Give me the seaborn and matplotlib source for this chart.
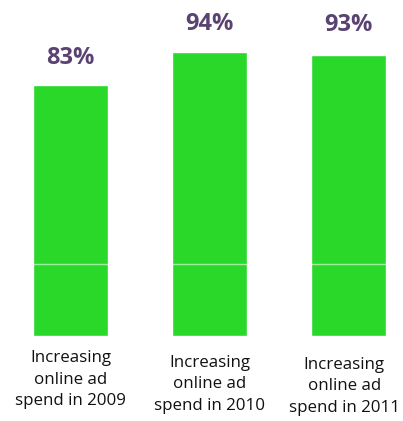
import matplotlib
matplotlib.use("Agg")
import matplotlib.pyplot as plt
import matplotlib.transforms as mtransforms
import seaborn as sns
import pandas as pd

categories = ["Increasing\nonline ad\nspend in 2009",
              "Increasing\nonline ad\nspend in 2010",
              "Increasing\nonline ad\nspend in 2011"]
values = [83, 94, 93]
value_labels = ["83%", "94%", "93%"]

df = pd.DataFrame({"category": categories, "value": values})

sns.set_style("white")
plt.rcParams["font.family"] = ["Open Sans", "DejaVu Sans"]

fig = plt.figure(figsize=(4.03, 4.21), dpi=100)
ax = fig.add_axes([0, 0.2019, 1, 0.7981])

sns.barplot(data=df, x="category", y="value", color="#2ad82a",
            saturation=1, width=0.54, ax=ax)

ax.set_xlim(-0.507, 2.392)
ax.set_ylim(0, 111.3)

# faint horizontal rule crossing the bars
ax.axhline(24, color="white", lw=1.0, alpha=0.55, zorder=5)

# value labels above each bar
label_gap = [9.0, 9.3, 10.0]
for i, (v, lab) in enumerate(zip(values, value_labels)):
    ax.text(i, v + label_gap[i], lab, ha="center", va="center",
            fontsize=17, fontweight="bold", color="#5a4272")

# category labels beneath the bars
trans = mtransforms.blended_transform_factory(ax.transData, ax.transAxes)
cat_offsets = [-0.042, -0.056, -0.062]
cat_shift = [0.0, 0.0, -0.03]
for i, cat in enumerate(categories):
    ax.text(i + cat_shift[i], cat_offsets[i], cat, transform=trans,
            ha="center", va="top", fontsize=12.2, color="#111111",
            linespacing=1.45)

ax.set_xticks([])
ax.set_yticks([])
ax.set_xlabel("")
ax.set_ylabel("")
for s in ax.spines.values():
    s.set_visible(False)

fig.savefig("out.png", dpi=100, facecolor="white")
